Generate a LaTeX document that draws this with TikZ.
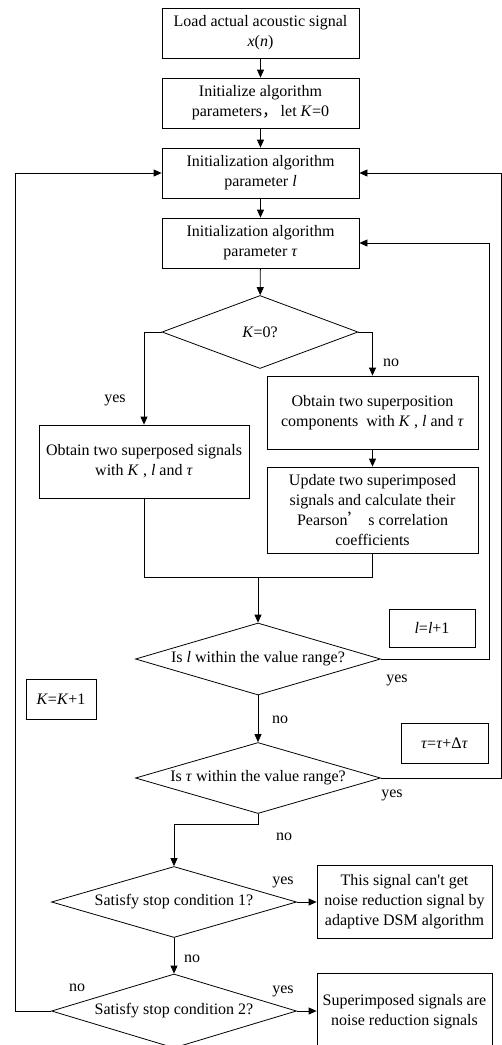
\documentclass[tikz,border=0pt]{standalone}
\usepackage{fontspec}
\setmainfont{Liberation Serif}[Ligatures=TeXOff]
\newfontfamily\cjk{Noto Sans CJK SC}
\usetikzlibrary{shapes.geometric,arrows.meta}

\tikzset{
  box/.style={draw, rectangle, align=center, inner sep=2pt},
  test/.style={draw, diamond, aspect=3.4, inner sep=0pt, align=center},
  line/.style={-{Triangle[length=8pt,width=7pt]}},
}

\begin{document}
\begin{tikzpicture}[x=1pt, y=-1pt, line width=0.8pt, font=\fontsize{16}{20}\selectfont]
      \useasboundingbox (0,0) rectangle (502,1045);
      \clip (0,0) rectangle (502,1045);
      \node (load) [box, minimum width=197pt, minimum height=50pt] at (260.5,33) {Load actual acoustic signal\\\textit{x}(\textit{n})};
      \node (init) [box, minimum width=197pt, minimum height=50pt] at (260.5,103) {Initialize algorithm\\parameters{\cjk ，}\,let \textit{K}=0};
      \node (initl) [box, minimum width=197pt, minimum height=50pt] at (260.5,173) {Initialization algorithm\\parameter \textit{l}};
      \node (inittau) [box, minimum width=197pt, minimum height=50pt] at (260.5,243) {Initialization algorithm\\parameter \textit{τ}};
      \node (kzero) [test, aspect=2.7, minimum width=196pt, minimum height=73pt] at (260,332) {\textit{K}=0?};
      \node (sup) [box, minimum width=210pt, minimum height=73pt] at (144,461.5) {Obtain two superposed signals\\with \textit{K} , \textit{l} and \textit{τ}};
      \node (comp) [box, minimum width=211pt, minimum height=73pt] at (372.5,412.5) {Obtain two superposition\\components\ \ with \textit{K} , \textit{l} and \textit{τ}};
      \node (update) [box, minimum width=211pt, minimum height=86pt, font=\fontsize{16}{19.7}\selectfont] at (372.5,510) {Update two superimposed\\signals and calculate their\\Pearson{\cjk ’}\hspace{0.3em}s correlation\\coefficients};
      \node (lrange) [test, minimum width=245pt, minimum height=72pt] at (258,659) {Is \textit{l} within the value range?};
      \node (lplus) [box, minimum width=86pt, minimum height=38pt] at (432,628) {\textit{l}=\textit{l}+1};
      \node (kplus) [box, minimum width=70pt, minimum height=40pt] at (61,699) {\textit{K}=\textit{K}+1};
      \node (taurange) [test, minimum width=245pt, minimum height=71pt] at (258,778) {Is \textit{τ} within the value range?};
      \node (tauplus) [box, minimum width=87pt, minimum height=40pt] at (444.5,743) {\textit{τ}=\textit{τ}+Δ\textit{τ}};
      \node (stop1) [test, minimum width=245pt, minimum height=71pt] at (174,902) {Satisfy stop condition 1?};
      \node (fail) [box, minimum width=175pt, minimum height=73pt] at (404.5,902) {This signal can't get\\noise reduction signal by\\adaptive DSM algorithm};
      \node (stop2) [test, minimum width=245pt, minimum height=74pt] at (174,1011) {Satisfy stop condition 2?};
      \node (done) [box, minimum width=175pt, minimum height=78pt] at (404.5,1012) {Superimposed signals are\\noise reduction signals};
      \coordinate (merge) at (258,577);
      \coordinate (rl) at (489,0);
      \coordinate (rt) at (501,0);
      \coordinate (lft) at (15,0);
      \draw (115,400) node (yk) {yes}
            (391,363) node (nk) {no}
            (397,680) node (yl) {yes}
            (280,720) node (nl) {no}
            (392,795) node (yt) {yes}
            (284,837) node (nt) {no}
            (283,882) node (ys1) {yes}
            (192,959) node (ns1) {no}
            (77,988) node (ns2) {no}
            (283,991) node (ys2) {yes};
      \draw[line] (load) -- (init);
      \draw[line] (init) -- (initl);
      \draw[line] (initl) -- (inittau);
      \draw[line] (inittau) -- (kzero);
      \draw[line] (kzero.west) -| (sup.north);
      \draw[line] (kzero.east) -| (comp.north);
      \draw[line] (comp) -- (update);
      \draw (sup.south) |- (merge) (update.south) |- (merge);
      \draw[line] (merge) -- (lrange);
      \draw[line] (lrange.east) -- (lrange.east -| rl) |- (inittau.east);
      \draw[line] (lrange) -- (taurange);
      \draw[line] (taurange.east) -- (taurange.east -| rt) |- (initl.east);
      \draw[line] (taurange.south) -- ++(0,10) -| (stop1.north);
      \draw[line] (stop1.east) -- (stop1.east -| fail.west);
      \draw[line] (stop1) -- (stop2);
      \draw[line] (stop2.east) -- (stop2.east -| done.west);
      \draw[line] (stop2.west) -- (stop2.west -| lft) |- (initl.west);
\end{tikzpicture}
\end{document}
